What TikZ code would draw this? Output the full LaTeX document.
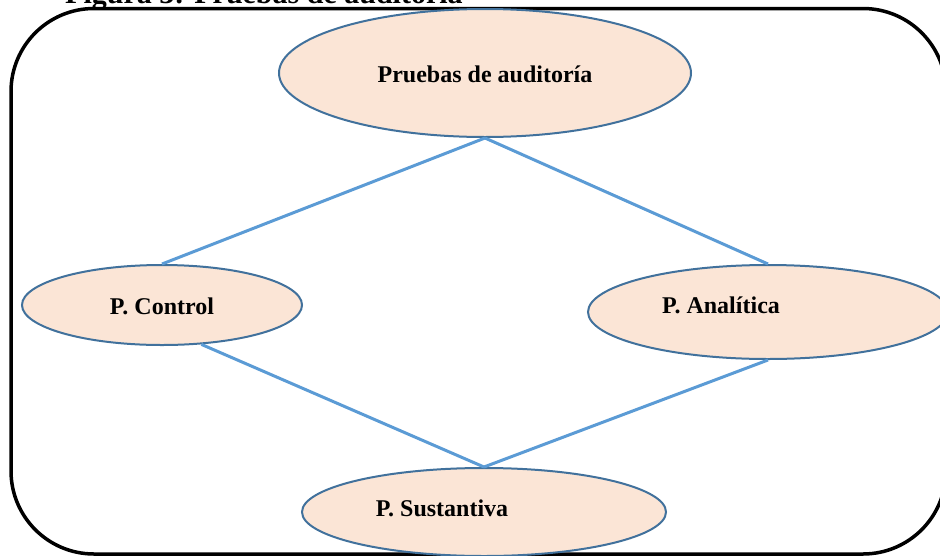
\documentclass[tikz,border=0pt]{standalone}
\usepackage{fontspec}
\setmainfont{Liberation Serif}
\usetikzlibrary{shapes.geometric}
\definecolor{pillfill}{HTML}{FBE5D6}
\definecolor{pillline}{HTML}{41719C}
\definecolor{linkblue}{HTML}{5B9BD5}
\tikzset{
  pill/.style={ellipse, draw=pillline, fill=pillfill, line width=2pt, inner sep=0pt},
  lbl/.style={font=\fontsize{24}{28}\selectfont\bfseries, inner sep=0pt, text=black},
  link/.style={draw=linkblue, line width=3pt},
}
\begin{document}
\begin{tikzpicture}[x=1pt, y=-1pt]
  \useasboundingbox (0,0) rectangle (940,555);
  \clip (0,0) rectangle (940,555);
  % caption (partly above the frame)
  \node[anchor=base west, inner sep=0pt, font=\fontsize{30}{34}\selectfont\bfseries] (cap) at (65,3.5) {Figura 3: Pruebas de auditoría};
  % outer frame
  \draw[line width=3.5pt, rounded corners=83pt] (11,8.5) rectangle (946,554);
  % ellipses
  \node[pill, minimum width=412pt, minimum height=128pt] (top) at (485,73) {};
  \node[pill, minimum width=280pt, minimum height=80pt] (ctrl) at (162,305) {};
  \node[pill, minimum width=360pt, minimum height=94pt] (ana) at (768,312) {};
  \node[pill, minimum width=364pt, minimum height=88pt] (sus) at (484,512) {};
  % labels
  \node[lbl] (topt) at (485,74) {Pruebas de auditoría};
  \node[lbl] (ctrlt) at (162,306) {P. Control};
  \node[lbl] (anat) at (721,305) {P. Analítica};
  \node[lbl] (sust) at (442,508) {P. Sustantiva};
  % connectors
  \draw[link] (top.south) -- (ctrl.north);
  \draw[link] (top.south) -- (ana.north);
  \draw[link] (ctrl.-45) -- (sus.north);
  \draw[link] (ana.south) -- (sus.north);
\end{tikzpicture}
\end{document}
